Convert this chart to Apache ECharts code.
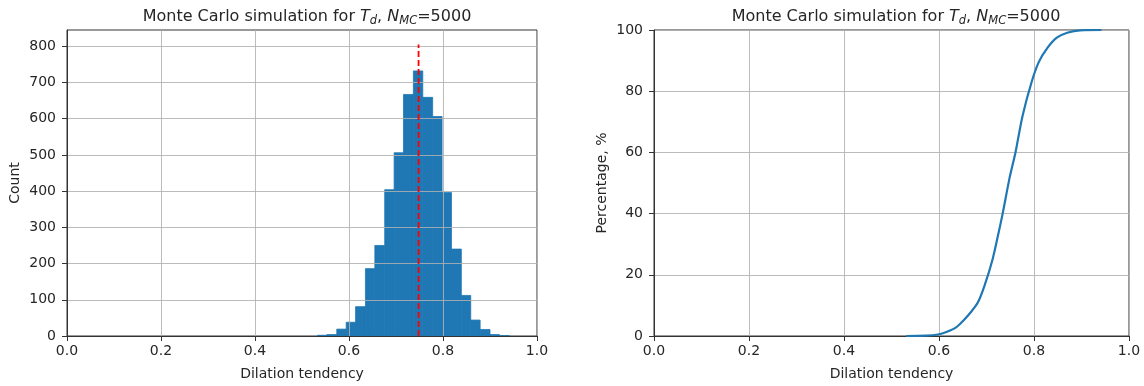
<!DOCTYPE html>
<html>
<head>
<meta charset="utf-8">
<script src="https://cdn.jsdelivr.net/npm/echarts@6/dist/echarts.min.js"></script>
<style>
html, body { margin: 0; padding: 0; background: #fff; }
#chart { width: 1144px; height: 386px; }
</style>
</head>
<body>
<div id="chart"></div>
<script>
// histogram of the Monte Carlo samples (20 bins)
const binEdges = [0.533, 0.553, 0.574, 0.594, 0.614, 0.635, 0.655, 0.676, 0.696, 0.716, 0.737,
                  0.757, 0.778, 0.798, 0.818, 0.839, 0.859, 0.879, 0.900, 0.920, 0.941];
const binCounts = [2, 4, 19, 38, 81, 186, 250, 404, 506, 667, 732, 659, 606, 396, 240, 112, 44, 18, 4, 1];
const meanValue = 0.748;
const meanLineTop = 805;

// cumulative curve (percentage)
const cdfX = [0.531, 0.572, 0.598, 0.617, 0.636, 0.651, 0.666, 0.682, 0.697, 0.712, 0.723, 0.734,
              0.749, 0.761, 0.776, 0.795, 0.810, 0.829, 0.848, 0.870, 0.897, 0.942];
const cdfY = [0, 0.1, 0.5, 1.4, 2.8, 5, 7.6, 11, 17, 24.6, 32, 40,
              52, 60, 72, 83, 89.5, 94.3, 97.5, 99.1, 99.9, 100];

const countTicks = [0, 100, 200, 300, 400, 500, 600, 700, 800];

const font = 'DejaVu Sans';
const textColor = '#262626';

const titleText = '{n|Monte Carlo simulation for }{i|T}{s|d}{n|, }{i|N}{s|MC}{n|=5000}';
const titleRich = {
  n: { fontFamily: font, fontSize: 16, fontWeight: 'normal', color: textColor, lineHeight: 21 },
  i: { fontFamily: font, fontSize: 16, fontWeight: 'normal', fontStyle: 'italic', color: textColor, lineHeight: 21 },
  s: { fontFamily: font, fontSize: 11.5, fontWeight: 'normal', fontStyle: 'italic', color: textColor, verticalAlign: 'bottom' }
};

const gridLine = { show: true, lineStyle: { color: '#b0b0b0', width: 1, opacity: 0.85 } };
const tickStyle = { show: true, inside: false, length: 5, lineStyle: { color: '#333' } };

function xAxisCfg(gridIndex) {
  return {
    type: 'value', gridIndex: gridIndex, min: 0, max: 1, interval: 0.2, z: 5,
    name: 'Dilation tendency', nameLocation: 'middle', nameGap: 31,
    nameTextStyle: { fontFamily: font, fontSize: 14, color: textColor },
    axisLine: { show: true, lineStyle: { color: '#333', width: 1 } },
    axisTick: tickStyle,
    axisLabel: { fontFamily: font, fontSize: 14, color: textColor, margin: 8,
      formatter: v => v.toFixed(1) },
    splitLine: gridLine
  };
}

const histData = binCounts.map((c, i) => [binEdges[i], binEdges[i + 1], c]);
const cdfData = cdfX.map((x, i) => [x, cdfY[i]]);

const option = {
  animation: false,
  backgroundColor: '#fff',
  title: [
    { text: titleText, left: 302, top: 1, textAlign: 'center', textStyle: { rich: titleRich } },
    { text: titleText, left: 891, top: 1, textAlign: 'center', textStyle: { rich: titleRich } }
  ],
  grid: [
    { left: 67, top: 30, width: 470, height: 306, show: true, borderColor: '#333', borderWidth: 1, backgroundColor: 'transparent' },
    { left: 654, top: 30, width: 475, height: 309, show: true, borderColor: '#333', borderWidth: 1, backgroundColor: 'transparent' }
  ],
  xAxis: [xAxisCfg(0), xAxisCfg(1)],
  yAxis: [
    {
      type: 'value', gridIndex: 0, min: 0, max: 845, interval: 100, z: 5,
      name: 'Count', nameLocation: 'middle', nameGap: 45,
      nameTextStyle: { fontFamily: font, fontSize: 14, color: textColor },
      axisLine: { show: true, lineStyle: { color: '#333', width: 1 } },
      axisTick: Object.assign({ customValues: countTicks }, tickStyle),
      axisLabel: { fontFamily: font, fontSize: 14, color: textColor, margin: 11, customValues: countTicks },
      splitLine: gridLine
    },
    {
      type: 'value', gridIndex: 1, min: 0, max: 100, interval: 20, z: 5,
      name: 'Percentage, %', nameLocation: 'middle', nameGap: 45,
      nameTextStyle: { fontFamily: font, fontSize: 14, color: textColor },
      axisLine: { show: true, lineStyle: { color: '#333', width: 1 } },
      axisTick: tickStyle,
      axisLabel: { fontFamily: font, fontSize: 14, color: textColor, margin: 11 },
      splitLine: gridLine
    }
  ],
  series: [
    {
      type: 'custom', xAxisIndex: 0, yAxisIndex: 0, z: 2,
      encode: { x: [0, 1], y: 2 },
      data: histData,
      renderItem: function (params, api) {
        const p0 = api.coord([api.value(0), api.value(2)]);
        const p1 = api.coord([api.value(1), 0]);
        return {
          type: 'rect',
          shape: { x: p0[0], y: p0[1], width: p1[0] - p0[0], height: p1[1] - p0[1] },
          style: { fill: '#1f77b4', stroke: '#1f77b4', lineWidth: 0.8 }
        };
      }
    },
    {
      type: 'line', xAxisIndex: 0, yAxisIndex: 0, z: 10,
      data: [[meanValue, 0], [meanValue, meanLineTop]],
      symbol: 'none',
      lineStyle: { color: '#ff0000', width: 1.8, type: [6, 3] }
    },
    {
      type: 'line', xAxisIndex: 1, yAxisIndex: 1, z: 10,
      data: cdfData,
      symbol: 'none', smooth: 0.3,
      lineStyle: { color: '#1f77b4', width: 2.2 }
    }
  ]
};

echarts.init(document.getElementById('chart')).setOption(option);
</script>
</body>
</html>
